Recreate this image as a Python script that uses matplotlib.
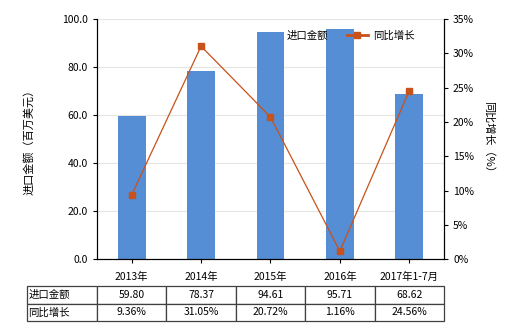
import matplotlib
matplotlib.use("Agg")
import matplotlib.pyplot as plt
from matplotlib.ticker import FuncFormatter

plt.rcParams['font.family'] = ['Noto Sans CJK SC', 'DejaVu Sans']

CATEGORIES = ["2013年", "2014年", "2015年", "2016年", "2017年1-7月"]
IMPORT_VALUES = [59.80, 78.37, 94.61, 95.71, 68.62]
GROWTH_PCT = [9.36, 31.05, 20.72, 1.16, 24.56]
IMPORT_LABELS = ["59.80", "78.37", "94.61", "95.71", "68.62"]
GROWTH_LABELS = ["9.36%", "31.05%", "20.72%", "1.16%", "24.56%"]

BAR_COLOR = "#558ED5"
LINE_COLOR = "#C9511A"
FS = 7.5


def main():
    fig = plt.figure(figsize=(5.2, 3.3), dpi=100)
    ax = fig.add_axes([0.1865, 0.215, 0.6673, 0.727])
    ax2 = ax.twinx()

    x = list(range(len(CATEGORIES)))
    ax.bar(x, IMPORT_VALUES, width=0.4, color=BAR_COLOR, label="进口金额", zorder=2)
    ax.set_ylim(0, 100)
    ax.set_xlim(-0.5, len(CATEGORIES) - 0.5)
    ax.set_yticks([0, 20, 40, 60, 80, 100])
    ax.yaxis.set_major_formatter(FuncFormatter(lambda v, p: f"{v:.1f}"))
    ax.set_xticks(x)
    ax.set_xticklabels(CATEGORIES)
    ax.grid(axis="y", color="#E6E6E0", linewidth=0.8, zorder=0)
    ax.set_axisbelow(True)
    ax.set_ylabel("进口金额（百万美元）", fontsize=FS + 0.5, labelpad=20)

    ax2.plot(x, GROWTH_PCT, color=LINE_COLOR, linewidth=0.9, marker="s",
             markersize=4.5, label="同比增长", zorder=3)
    ax2.set_ylim(0, 35)
    ax2.set_yticks([0, 5, 10, 15, 20, 25, 30, 35])
    ax2.yaxis.set_major_formatter(FuncFormatter(lambda v, p: f"{v:.0f}%"))
    ax2.set_ylabel("同比增长（%）", fontsize=FS + 0.5, rotation=-90, labelpad=14)

    for a in (ax, ax2):
        a.spines["top"].set_visible(False)
        a.tick_params(labelsize=FS, length=3, width=0.8, direction="out")
    ax.tick_params(axis="x", pad=6)

    leg = ax2.legend(loc="center left", bbox_to_anchor=(0.72, 0.93), frameon=False,
                     fontsize=FS, handlelength=2.0, handletextpad=0.5,
                     borderpad=0, borderaxespad=0)
    leg.get_lines()[0].set_linewidth(2)
    # bar legend entry as text only (no patch), like the reference
    ax.text(0.545, 0.93, "进口金额", transform=ax.transAxes, fontsize=FS,
            va="center", ha="left")

    tax = fig.add_axes([0.052, 0.027, 0.802, 0.106])
    tax.axis("off")
    cell_text = [["进口金额"] + IMPORT_LABELS, ["同比增长"] + GROWTH_LABELS]
    col_w = [70 / 417] + [69.4 / 417] * 5
    tbl = tax.table(cellText=cell_text, colWidths=col_w, bbox=[0, 0, 1, 1],
                    cellLoc="center")
    tbl.auto_set_font_size(False)
    for (r, c), cell in tbl.get_celld().items():
        cell.set_fontsize(FS)
        cell.set_edgecolor("#404040")
        cell.set_linewidth(0.9)
        if c == 0:
            cell.set_text_props(ha="left")
            cell._loc = "left"
            cell.PAD = 0.02

    fig.savefig("out.png", dpi=100)
    plt.close(fig)


if __name__ == "__main__":
    main()
